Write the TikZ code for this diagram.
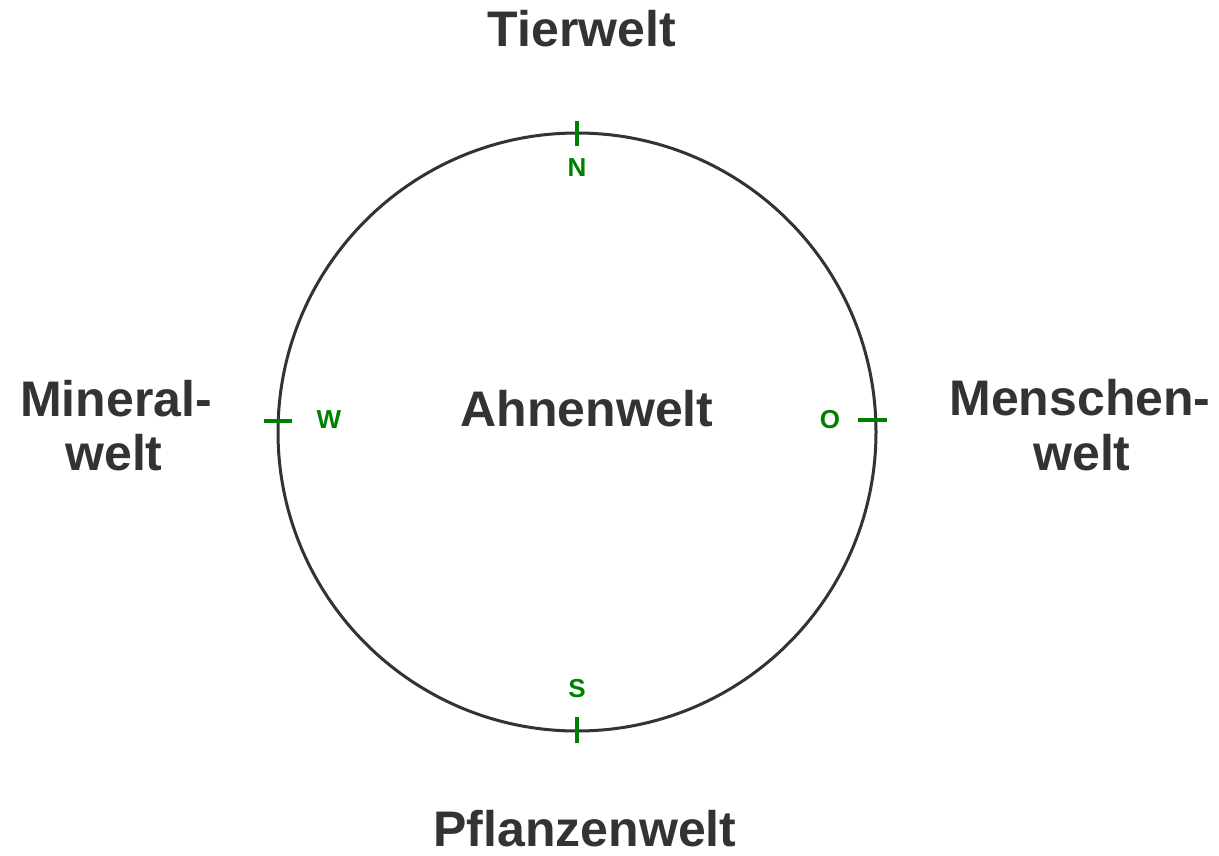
\documentclass[tikz,border=0pt]{standalone}
\usepackage{fontspec}
\setmainfont{Liberation Sans}
\definecolor{txtgray}{HTML}{333333}
\definecolor{compgreen}{HTML}{008000}
\begin{document}
\begin{tikzpicture}[x=1pt,y=-1pt,
  world/.style={font=\fontsize{50}{56}\selectfont\bfseries, text=txtgray, anchor=base, inner sep=0pt},
  dirlabel/.style={font=\fontsize{26}{30}\selectfont\bfseries, text=compgreen, anchor=base, inner sep=0pt},
  tick/.style={draw=compgreen, line width=4pt},
  ring/.style={draw=txtgray, line width=3pt}]
\useasboundingbox (0,0) rectangle (1219,855);
\fill[white] (0,0) rectangle (1219,855);
% circle
\coordinate (c) at (577,432);
\draw[ring] (c) circle[radius=299];
% ticks
\coordinate (nA) at (577,121); \coordinate (nB) at (577,146);
\coordinate (sA) at (577,717); \coordinate (sB) at (577,743);
\coordinate (wA) at (264,421); \coordinate (wB) at (292,421);
\coordinate (oA) at (858,420); \coordinate (oB) at (887,420);
\draw[tick] (nA) -- (nB);
\draw[tick] (sA) -- (sB);
\draw[tick] (wA) -- (wB);
\draw[tick] (oA) -- (oB);
% direction letters
\node[dirlabel] (N) at (577,176) {N};
\node[dirlabel] (S) at (577,697) {S};
\node[dirlabel] (W) at (329,428) {W};
\node[dirlabel] (O) at (830,428) {O};
% worlds
\node[world] (tier) at (582,46) {Tierwelt};
\node[world] (ahnen) at (587,426) {Ahnenwelt};
\node[world] (pflanzen) at (585,846) {Pflanzenwelt};
\node[world] (minA) at (116,416) {Mineral-};
\node[world] (minB) at (114,470) {welt};
\node[world] (menA) at (1080,415) {Menschen-};
\node[world] (menB) at (1082,470) {welt};
\end{tikzpicture}
\end{document}
